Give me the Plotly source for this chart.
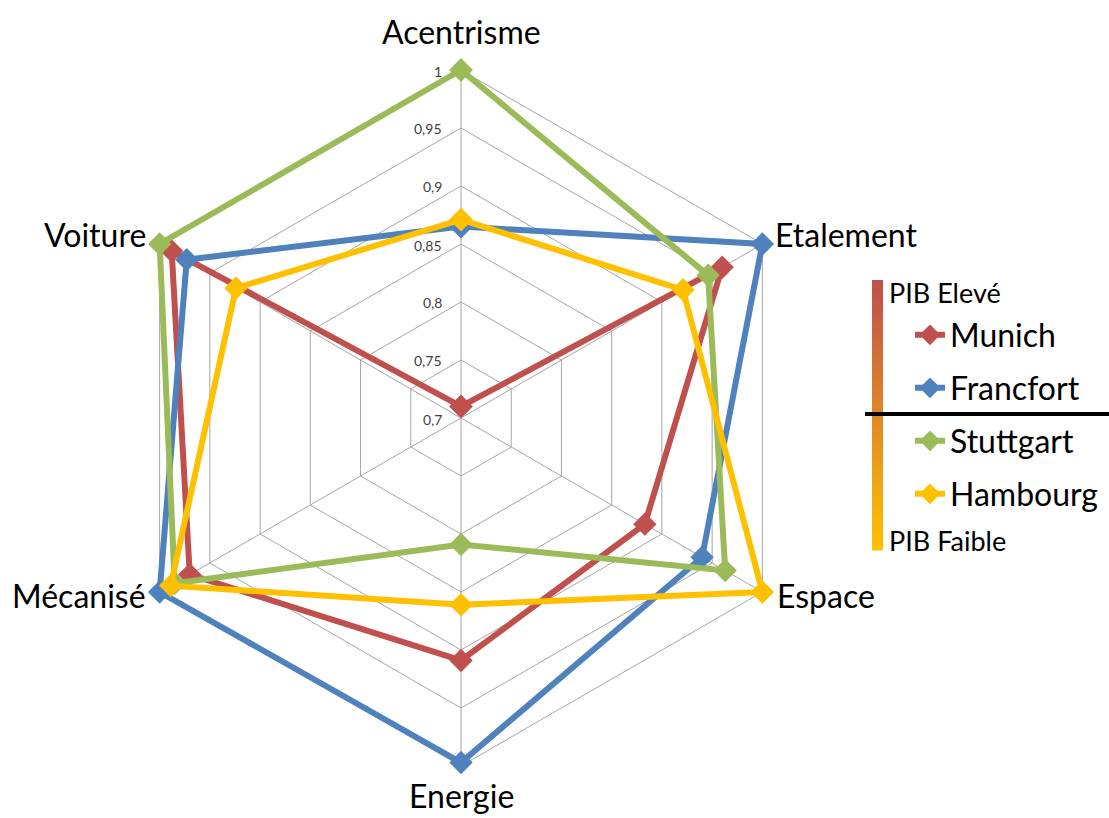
import plotly.graph_objects as go

categories = ["Acentrisme", "Etalement", "Espace", "Energie", "Mécanisé", "Voiture"]
munich = [0.71, 0.96, 0.883, 0.909, 0.97, 0.988]
francfort = [0.865, 1.0, 0.94, 0.997, 1.0, 0.973]
stuttgart = [1.0, 0.946, 0.963, 0.809, 0.985, 1.0]
hambourg = [0.871, 0.921, 1.0, 0.861, 0.989, 0.924]
series_names = ["Munich", "Francfort", "Stuttgart", "Hambourg"]
series_values = [munich, francfort, stuttgart, hambourg]
colors = ["#C0504D", "#4F81BD", "#9BBB59", "#FFC000"]
tick_vals = [0.7, 0.75, 0.8, 0.85, 0.9, 0.95, 1.0]
tick_text = ["0,7", "0,75", "0,8", "0,85", "0,9", "0,95", "1"]

W, H = 1109, 818
cx, cy, R = 461, 418, 348          # centre and radius (px) of the 0.7..1 grid
r_min, r_max = tick_vals[0], tick_vals[-1]
r_pad = 0.02                        # extra room so thick lines on the rim are not clipped
R_data = R * (r_max + r_pad - r_min) / (r_max - r_min)

font_family = "Lato, Open Sans, sans-serif"

fig = go.Figure()
# invisible trace that fixes the category order of the grid subplot
fig.add_trace(go.Scatterpolar(r=munich, theta=categories, mode="lines", opacity=0,
                              showlegend=False, hoverinfo="skip", subplot="polar"))

legend_ids = ["legend", "legend2", "legend3", "legend4"]
legend_y = [335, 388, 441, 494]
for name, vals, col, lid in zip(series_names, series_values, colors, legend_ids):
    fig.add_trace(go.Scatterpolar(
        r=vals + [vals[0]], theta=categories + [categories[0]],
        mode="lines+markers", name=name,
        line=dict(color=col, width=6),
        marker=dict(symbol="diamond", size=18, color=col),
        legend=lid, cliponaxis=False, subplot="polar2",
    ))


def dom(radius):
    return dict(x=[(cx - radius) / W, (cx + radius) / W],
                y=[(H - cy - radius) / H, (H - cy + radius) / H])


layout = dict(
    width=W, height=H, margin=dict(l=0, r=0, t=0, b=0),
    paper_bgcolor="white", plot_bgcolor="white",
    polar=dict(
        domain=dom(R), bgcolor="white", gridshape="linear",
        angularaxis=dict(
            rotation=90, direction="clockwise", type="category",
            categoryorder="array", categoryarray=categories,
            linecolor="#A6A6A6", linewidth=1,
            gridcolor="#A6A6A6", gridwidth=1,
            showticklabels=False, ticks="",
        ),
        radialaxis=dict(
            range=[r_min, r_max], tickvals=tick_vals, angle=90,
            showline=False, showticklabels=False, ticks="",
            gridcolor="#A6A6A6", gridwidth=1,
        ),
    ),
    polar2=dict(
        domain=dom(R_data), bgcolor="rgba(0,0,0,0)", gridshape="linear",
        angularaxis=dict(
            rotation=90, direction="clockwise", type="category",
            categoryorder="array", categoryarray=categories,
            showline=False, showgrid=False, showticklabels=False, ticks="",
        ),
        radialaxis=dict(
            range=[r_min, r_max + r_pad], showline=False, showgrid=False,
            showticklabels=False, ticks="",
        ),
    ),
    showlegend=True,
)
for lid, ly in zip(legend_ids, legend_y):
    layout[lid] = dict(
        x=910 / W, y=1 - ly / H, xanchor="left", yanchor="middle",
        bgcolor="rgba(0,0,0,0)", font=dict(family=font_family, size=32, color="black"),
        itemwidth=30, tracegroupgap=0,
    )
fig.update_layout(**layout)

# radial tick labels, left of the vertical axis
for v, t in zip(tick_vals, tick_text):
    py = cy - (v - r_min) / (r_max - r_min) * R + 1
    fig.add_annotation(text=t, x=444 / W, y=1 - py / H, xref="paper", yref="paper",
                       xanchor="right", yanchor="middle", showarrow=False,
                       font=dict(family=font_family, size=14, color="#404040"))

# category labels around the radar
label_pos = [(461, 31, "center"), (773, 235, "left"), (775, 595, "left"),
             (461, 795, "center"), (148, 595, "right"), (148, 235, "right")]
for cat, (lx, ly, anc) in zip(categories, label_pos):
    fig.add_annotation(text=cat, x=lx / W, y=1 - ly / H, xref="paper", yref="paper",
                       xanchor=anc, yanchor="middle", showarrow=False,
                       font=dict(family=font_family, size=32, color="black"))

# gradient bar (PIB)
n = 60
y0, y1 = 280, 550
c_top = (192, 80, 77)
c_bot = (255, 192, 0)
for i in range(n):
    t = i / (n - 1)
    c = tuple(int(round(a + (b - a) * t)) for a, b in zip(c_top, c_bot))
    fig.add_shape(type="rect", xref="paper", yref="paper",
                  x0=872 / W, x1=883 / W,
                  y0=1 - (y0 + (y1 - y0) * (i + 1) / n + 0.5) / H,
                  y1=1 - (y0 + (y1 - y0) * i / n) / H,
                  line=dict(width=0), fillcolor="rgb(%d,%d,%d)" % c, layer="above")
fig.add_shape(type="line", xref="paper", yref="paper",
              x0=865 / W, x1=1109 / W, y0=1 - 414 / H, y1=1 - 414 / H,
              line=dict(color="black", width=4))
fig.add_annotation(text="PIB Elevé", x=887 / W, y=1 - 292 / H, xref="paper", yref="paper",
                   xanchor="left", yanchor="middle", showarrow=False,
                   font=dict(family=font_family, size=27, color="black"))
fig.add_annotation(text="PIB Faible", x=887 / W, y=1 - 540 / H, xref="paper", yref="paper",
                   xanchor="left", yanchor="middle", showarrow=False,
                   font=dict(family=font_family, size=27, color="black"))

fig.write_html("out.html", config={"displayModeBar": False},
               post_script="document.body.style.margin='0';document.body.style.overflow='hidden';")
